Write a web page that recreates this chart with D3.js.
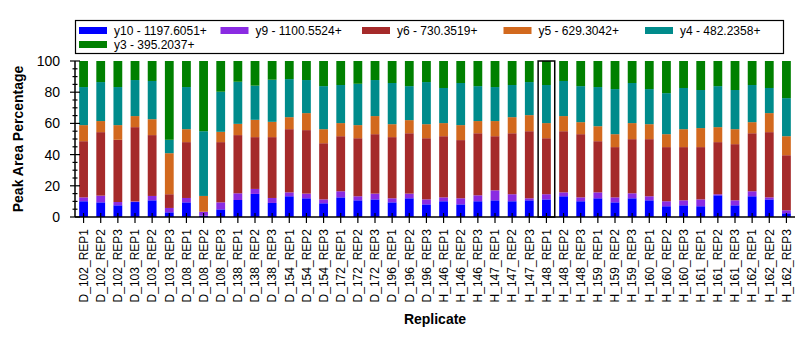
<!DOCTYPE html>
<html><head><meta charset="utf-8">
<script src="https://cdn.jsdelivr.net/npm/d3@7"></script>
<style>body{margin:0;background:#fff;} svg{display:block;font-family:"Liberation Sans",Arial,sans-serif;}</style>
</head><body><svg id="c" width="812" height="339"></svg>
<script>
const categories = ["D_102_REP1","D_102_REP2","D_102_REP3","D_103_REP1","D_103_REP2","D_103_REP3","D_108_REP1","D_108_REP2","D_108_REP3","D_138_REP1","D_138_REP2","D_138_REP3","D_154_REP1","D_154_REP2","D_154_REP3","D_172_REP1","D_172_REP2","D_172_REP3","D_196_REP1","D_196_REP2","D_196_REP3","H_146_REP1","H_146_REP2","H_146_REP3","H_147_REP1","H_147_REP2","H_147_REP3","H_148_REP1","H_148_REP2","H_148_REP3","H_159_REP1","H_159_REP2","H_159_REP3","H_160_REP1","H_160_REP2","H_160_REP3","H_161_REP1","H_161_REP2","H_161_REP3","H_162_REP1","H_162_REP2","H_162_REP3"];
const seriesNames = ["y10 - 1197.6051+","y9 - 1100.5524+","y6 - 730.3519+","y5 - 629.3042+","y4 - 482.2358+","y3 - 395.2037+"];
const seriesColors = ["#0000FF","#8A2BE2","#A52A2A","#D2691E","#008B8B","#008000"];
const y10 = [10.1,9.4,7.5,9.6,10.7,3.0,9.4,0.9,4.9,10.9,14.8,9.0,13.3,12.0,8.8,12.6,10.7,11.3,9.4,12.0,8.1,10.1,8.1,10.1,10.7,10.1,10.7,11.3,13.3,10.1,12.0,9.4,12.0,10.7,6.9,7.5,6.9,13.9,7.5,13.3,11.3,2.4];
const y9  = [2.5,4.3,2.1,0.4,2.8,2.8,2.8,2.3,4.5,4.3,3.2,3.2,2.5,3.0,2.5,3.9,2.6,3.7,2.6,3.0,3.2,2.5,3.9,3.8,6.4,4.5,1.3,3.3,2.5,2.5,3.8,3.2,3.2,2.6,3.2,3.2,4.4,0.7,3.2,3.2,1.3,1.9];
const y6  = [36.0,40.7,39.9,47.6,39.0,8.8,35.8,0.3,38.6,37.3,33.2,39.0,40.5,40.7,36.0,35.3,37.2,38.1,39.2,38.7,39.2,39.2,37.3,39.8,34.7,39.1,43.0,35.9,39.2,40.5,32.8,32.2,34.7,36.6,34.7,34.1,33.5,33.4,36.0,37.2,41.8,35.3];
const y5  = [10.3,7.1,9.4,7.1,10.2,26.3,8.3,10.0,6.6,7.2,11.1,9.8,7.7,10.9,9.0,8.4,8.4,11.6,8.3,8.4,9.0,8.4,9.6,7.8,9.7,10.3,10.3,9.7,9.7,7.7,9.6,8.3,10.3,9.6,8.3,11.5,12.2,9.6,9.6,7.1,12.2,12.2];
const y4  = [24.4,25.0,24.4,23.1,24.5,8.6,27.0,41.5,25.7,27.0,21.9,27.0,24.4,21.2,27.6,24.4,26.5,23.1,26.4,21.8,27.0,22.5,27.0,22.4,21.8,20.6,21.2,24.4,22.5,23.1,25.1,28.9,25.7,22.5,26.3,26.4,24.4,26.3,25.1,23.8,16.1,24.4];
const y3  = [16.7,13.5,16.7,12.2,12.8,50.5,16.7,45.0,19.7,13.3,15.8,12.0,11.6,12.2,16.1,15.4,14.6,12.2,14.1,16.1,13.5,17.3,14.1,16.1,16.7,15.4,13.5,15.4,12.8,16.1,16.7,18.0,14.1,18.0,20.6,17.3,18.6,16.1,18.6,15.4,17.3,23.8];
const yTicks = [0,20,40,60,80,100];
const highlighted = "H_148_REP1";

const svg = d3.select("#c");
const seriesVals = [y10,y9,y6,y5,y4,y3];
const rows = categories.map((c,i)=>{const r={cat:c}; seriesVals.forEach((s,k)=>r["s"+k]=s[i]); return r;});
const keys = seriesVals.map((s,k)=>"s"+k);
const stack = d3.stack().keys(keys)(rows);

const x = d3.scaleBand().domain(categories).range([75,795]).paddingInner(0.49).paddingOuter(0.245);
const xc = d3.scaleBand().domain(categories).range([75,795]);
const y = d3.scaleLinear().domain([0,100]).range([217,61]);

// bars
svg.append("g").selectAll("g").data(stack).join("g")
  .attr("fill",(d,i)=>seriesColors[i])
  .selectAll("rect").data(d=>d).join("rect")
  .attr("x",d=>xc(d.data.cat)+xc.bandwidth()/2-4.4)
  .attr("width",8.8)
  .attr("y",d=>y(d[1]))
  .attr("height",d=>y(d[0])-y(d[1]));

// highlight
svg.append("rect")
  .attr("x",xc(highlighted)+xc.bandwidth()/2-8.3)
  .attr("width",16.6)
  .attr("y",y(100)).attr("height",y(0)-y(100))
  .attr("fill","none").attr("stroke","#000").attr("stroke-width",1.5);

// y axis
const ya = svg.append("g");
ya.append("line").attr("x1",75).attr("x2",75).attr("y1",y(100)).attr("y2",y(0)).attr("stroke","#000").attr("stroke-width",1.5);
const minor = d3.range(0,101,5).filter(v=>v%20!==0);
ya.selectAll("line.mi").data(minor).join("line").attr("class","mi")
  .attr("x1",72.5).attr("x2",77.5).attr("y1",d=>y(d)).attr("y2",d=>y(d)).attr("stroke","#000").attr("stroke-width",1.2);
ya.selectAll("line.ma").data(yTicks).join("line").attr("class","ma")
  .attr("x1",70).attr("x2",80).attr("y1",d=>y(d)).attr("y2",d=>y(d)).attr("stroke","#000").attr("stroke-width",1.2);
ya.selectAll("text").data(yTicks).join("text")
  .attr("x",60).attr("y",d=>y(d)).attr("dy","0.36em").attr("text-anchor","end")
  .attr("font-size",14).attr("fill","#000").text(d=>d);

// x axis
const xa = svg.append("g");
xa.append("line").attr("x1",75).attr("x2",795).attr("y1",217).attr("y2",217).attr("stroke","#000").attr("stroke-width",1.5);
xa.selectAll("line.t").data(categories).join("line").attr("class","t")
  .attr("x1",d=>xc(d)+xc.bandwidth()/2).attr("x2",d=>xc(d)+xc.bandwidth()/2)
  .attr("y1",213).attr("y2",223).attr("stroke","#000").attr("stroke-width",1.2);
xa.selectAll("text").data(categories).join("text")
  .attr("transform",d=>`translate(${xc(d)+xc.bandwidth()/2},229) rotate(-90)`)
  .attr("dy","0.36em").attr("text-anchor","end").attr("font-size",12).attr("fill","#000").text(d=>d);

// titles
svg.append("text").attr("x",435).attr("y",324).attr("text-anchor","middle")
  .attr("font-size",14).attr("font-weight","bold").text("Replicate");
svg.append("text").attr("transform","translate(23,139) rotate(-90)").attr("text-anchor","middle")
  .attr("font-size",14).attr("font-weight","bold").text("Peak Area Percentage");

// legend
const lg = svg.append("g");
lg.append("rect").attr("x",75.5).attr("y",20.5).attr("width",708).attr("height",33)
  .attr("fill","#fff").attr("stroke","#000").attr("stroke-width",1.2);
const items = lg.selectAll("g").data(seriesNames).join("g")
  .attr("transform",(d,i)=>`translate(${79+141.5*(i%5)},${27+14*Math.floor(i/5)})`);
items.append("rect").attr("width",28).attr("height",7).attr("fill",(d,i)=>seriesColors[i]);
items.append("text").attr("x",35).attr("y",3.5).attr("dy","0.36em").attr("font-size",12).attr("fill","#000").text(d=>d);
</script></body></html>
